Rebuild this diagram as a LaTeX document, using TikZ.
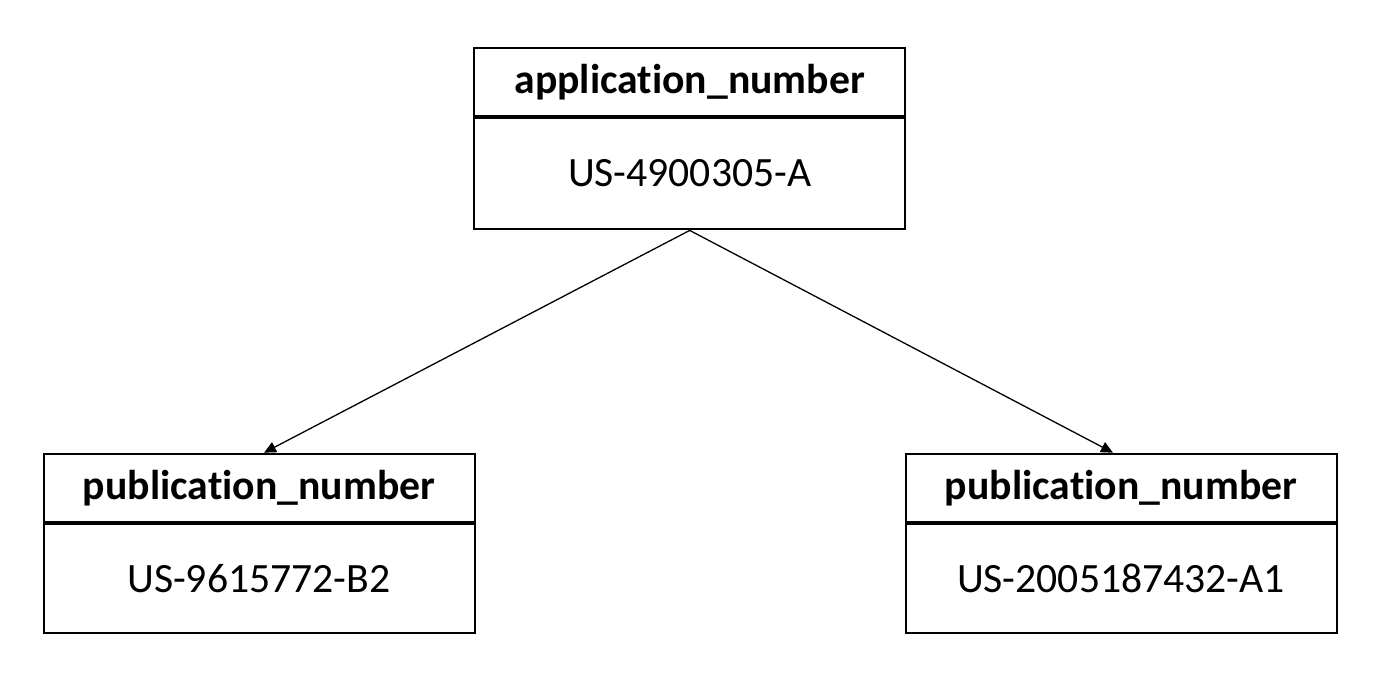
\documentclass[tikz,border=0pt]{standalone}
\usepackage{fontspec}
\setmainfont[Ligatures=NoCommon]{Carlito}
\usetikzlibrary{arrows.meta}
\begin{document}
\begin{tikzpicture}[x=1pt,y=-1pt,
  cell/.style={draw=black,line width=2pt,rectangle,inner sep=0pt,anchor=north,minimum width=431pt},
  headcell/.style={cell,minimum height=68pt,font=\fontsize{41.7}{48}\selectfont\bfseries},
  bodycell/.style={cell,minimum height=111pt,font=\fontsize{41.7}{48}\selectfont},
  link/.style={line width=1.3pt,-{Triangle[length=12pt,width=11pt]}}]
\useasboundingbox (0,0) rectangle (1398,686);
\node[headcell] (th) at (689.7,46.7) {application\_number};
\node[bodycell,minimum height=111.7pt] (tb) at (th.south) {US-4900305-A};
\node[headcell] (lh) at (259,452.7) {publication\_number};
\node[bodycell,minimum height=109.3pt] (lb) at (lh.south) {US-9615772-B2};
\node[headcell] (rh) at (1121,452.7) {publication\_number};
\node[bodycell,minimum height=109.3pt] (rb) at (rh.south) {US-2005187432-A1};
\coordinate (le) at ([xshift=5pt]lh.north);
\coordinate (re) at ([xshift=-8pt]rh.north);
\draw[link] (tb.south) -- (le);
\draw[link] (tb.south) -- (re);
\end{tikzpicture}
\end{document}
